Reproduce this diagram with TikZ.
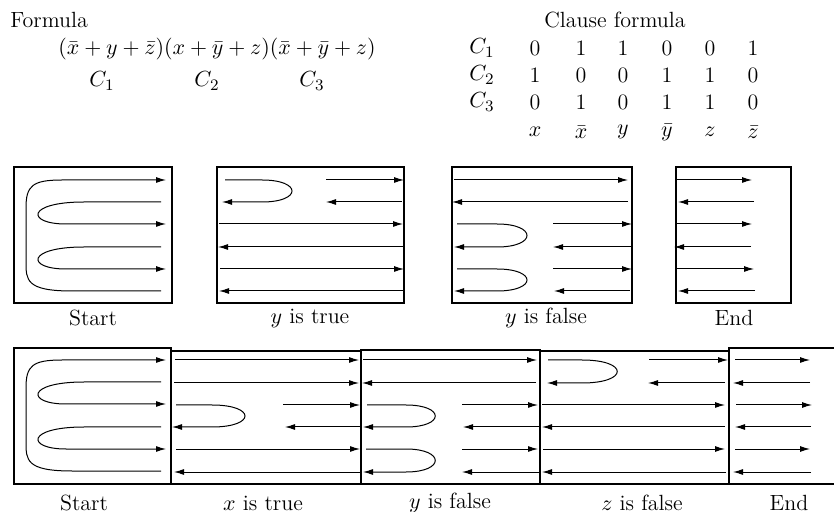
\documentclass[tikz,border=0pt]{standalone}
\usepackage{amsmath}
\usepackage{tikz}
\usetikzlibrary{arrows.meta}

% the three loops of the start tile, first lane at y=0
\newcommand{\startlanes}{%
    \draw[flow] (161,111) -- (72,111) .. controls (26,111) and (26,100) .. (26,82)
        -- (26,28) .. controls (26,6) and (32,0) .. (62,0) -- (166,0);
    \draw[flow] (161,22) -- (84,22) .. controls (26,22) and (26,44) .. (66,44) -- (166,44);
    \draw[flow] (161,67) -- (84,67) .. controls (26,67) and (26,89) .. (66,89) -- (166,89);
}

\begin{document}
\begin{tikzpicture}[
        x=0.5pt, y=-0.5pt,
        font=\fontsize{11}{13}\selectfont,
        every node/.style={inner sep=1pt},
        tile/.style={draw, line width=0.7pt},
        lane/.style={draw, line width=0.5pt},
        flow/.style={lane, -{Latex[length=5pt, width=3pt]}},
        caption/.style={inner sep=1pt}
    ]
    \useasboundingbox (0,0) rectangle (834,512);

    % formula and clause table
    \node[anchor=west] (formulahead) at (8,20) {Formula};
    \node (formula) at (217,49) {$(\bar{x}+y+\bar{z})(x+\bar{y}+z)(\bar{x}+\bar{y}+z)$};
    \node (cone) at (102,81) {$C_1$};
    \node (ctwo) at (207,81) {$C_2$};
    \node (cthree) at (312,81) {$C_3$};

    \node (clausehead) at (615,20) {Clause formula};
    \node (rowone) at (482,48) {$C_1$};
    \node (rowtwo) at (482,75) {$C_2$};
    \node (rowthree) at (482,102) {$C_3$};
    \node (aone) at (535,48) {0};  \node (bone) at (581,48) {1};  \node (cone') at (623,48) {1};
    \node (done) at (667,48) {0};  \node (eone) at (710,48) {0};  \node (fone) at (753,48) {1};
    \node (atwo) at (535,75) {1};  \node (btwo) at (581,75) {0};  \node (ctwo') at (623,75) {0};
    \node (dtwo) at (667,75) {1};  \node (etwo) at (710,75) {1};  \node (ftwo) at (753,75) {0};
    \node (athree) at (535,102) {0};  \node (bthree) at (581,102) {1};  \node (cthree') at (623,102) {0};
    \node (dthree) at (667,102) {1};  \node (ethree) at (710,102) {1};  \node (fthree) at (753,102) {0};
    \node (varx) at (535,132) {$x$};  \node (varxb) at (581,132) {$\bar{x}$};
    \node (vary) at (623,132) {$y$};  \node (varyb) at (667,132) {$\bar{y}$};
    \node (varz) at (710,132) {$z$};  \node (varzb) at (753,132) {$\bar{z}$};

    % top row: single tiles
    \draw[tile] (14,167) rectangle (172,303);
    \begin{scope}[shift={(0,180)}]
        \startlanes
    \end{scope}
    \node[caption] (capstart) at (93,318) {Start};

    \draw[tile] (217,167) rectangle (404,303);
    \draw[flow] (225,180) -- (262,180) .. controls (302,180) and (302,202) .. (262,202) -- (222,202);
    \draw[flow] (326,180) -- (404,180);
    \draw[flow] (402,202) -- (326,202);
    \draw[flow] (219,224) -- (403,224);
    \draw[flow] (403,247) -- (218,247);
    \draw[flow] (220,269) -- (404,269);
    \draw[flow] (403,291) -- (219,291);
    \node[caption] (capytrue) at (310,318) {$y$ is true};

    \draw[tile] (452,167) rectangle (632,303);
    \draw[flow] (454,180) -- (628,180);
    \draw[flow] (628,202) -- (452,202);
    \draw[flow] (457,224) -- (497,224) .. controls (537,224) and (537,247) .. (497,247) -- (454,247);
    \draw[flow] (553,224) -- (632,224);
    \draw[flow] (632,247) -- (553,247);
    \draw[flow] (457,269) -- (497,269) .. controls (537,269) and (537,291) .. (497,291) -- (454,291);
    \draw[flow] (553,269) -- (632,269);
    \draw[flow] (630,291) -- (554,291);
    \node[caption] (capyfalse) at (546,318) {$y$ is false};

    \draw[tile] (676,167) rectangle (791,303);
    \draw[flow] (676,180) -- (752,180);
    \draw[flow] (754,202) -- (678,202);
    \draw[flow] (676,224) -- (752,224);
    \draw[flow] (751,247) -- (674,247);
    \draw[flow] (676,269) -- (754,269);
    \draw[flow] (755,291) -- (678,291);
    \node[caption] (capend) at (734,318) {End};

    % bottom row: tiles put together
    \draw[tile] (14,348) rectangle (171,484);
    \begin{scope}[shift={(0,360)}]
        \startlanes
    \end{scope}
    \node[caption] (capstartb) at (84,503) {Start};

    \draw[tile] (171,351) rectangle (361,484);
    \draw[flow] (175,360) -- (359,360);
    \draw[flow] (174,383) -- (359,383);
    \draw[flow] (176,405) -- (212,405) .. controls (256,405) and (256,427) .. (212,427) -- (172,427);
    \draw[flow] (283,405) -- (360,405);
    \draw[flow] (360,427) -- (285,427);
    \draw[flow] (176,449) -- (360,449);
    \draw[flow] (360,472) -- (174,472);
    \node[caption] (capxtrue) at (263,503) {$x$ is true};

    \draw[tile] (361,350) rectangle (540,484);
    \draw[flow] (363,360) -- (537,360);
    \draw[flow] (536,383) -- (362,383);
    \draw[flow] (367,405) -- (406,405) .. controls (445,405) and (445,427) .. (406,427) -- (363,427);
    \draw[flow] (462,405) -- (538,405);
    \draw[flow] (540,427) -- (463,427);
    \draw[flow] (366,449) -- (406,449) .. controls (445,449) and (445,472) .. (406,472) -- (363,472);
    \draw[flow] (462,449) -- (538,449);
    \draw[flow] (540,472) -- (462,472);
    \node[caption] (capyfalseb) at (450,503) {$y$ is false};

    \draw[tile] (540,351) rectangle (729,484);
    \draw[flow] (548,360) -- (582,360) .. controls (629,360) and (629,383) .. (582,383) -- (547,383);
    \draw[flow] (649,360) -- (728,360);
    \draw[flow] (725,383) -- (648,383);
    \draw[flow] (542,405) -- (725,405);
    \draw[flow] (725,427) -- (542,427);
    \draw[flow] (543,449) -- (725,449);
    \draw[flow] (726,472) -- (542,472);
    \node[caption] (capzfalse) at (642,503) {$z$ is false};

    \draw[tile, line width=1.1pt] (834,348) -- (729,348) -- (729,484) -- (834,484);
    \draw[flow] (735,360) -- (810,360);
    \draw[flow] (810,383) -- (733,383);
    \draw[flow] (736,405) -- (812,405);
    \draw[flow] (811,427) -- (735,427);
    \draw[flow] (735,449) -- (810,449);
    \draw[flow] (811,472) -- (733,472);
    \node[caption] (capendb) at (789,503) {End};
\end{tikzpicture}
\end{document}
